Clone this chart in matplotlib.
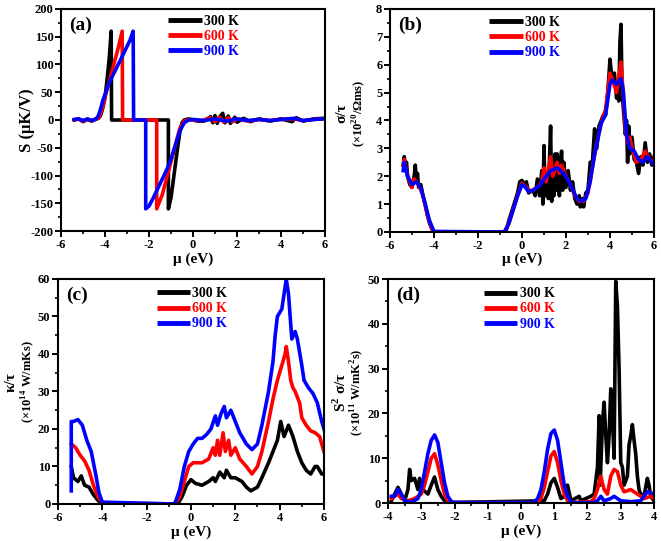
"""Thermoelectric transport panels (a)-(d)."""

import matplotlib
matplotlib.use("Agg")
import matplotlib.pyplot as plt
from matplotlib.ticker import MultipleLocator

plt.rcParams["font.family"] = ["Liberation Serif", "DejaVu Serif"]
plt.rcParams["font.weight"] = "bold"
plt.rcParams["axes.unicode_minus"] = False
plt.rcParams["mathtext.fontset"] = "custom"
plt.rcParams["mathtext.rm"] = "Liberation Serif:bold"
plt.rcParams["mathtext.bf"] = "Liberation Serif:bold"

temps = ["300 K", "600 K", "900 K"]
colors = ["#000000", "#ff0000", "#0000ff"]

# (a) Seebeck coefficient, muK/V
a_mu_300 = [-5.4, -5.2, -5.0, -4.8, -4.6, -4.4, -4.3, -4.2, -4.1, -4.0, -3.9, -3.8, -3.72, -3.7,
            -1.12, -1.12, -1.0, -0.9, -0.8, -0.7, -0.6, -0.5, -0.4, -0.2, 0.0, 0.2, 0.5, 0.8, 0.9,
            1.0, 1.1, 1.2, 1.35, 1.45, 1.6, 1.7, 1.9, 2.0, 2.3, 2.6, 3.0, 3.5, 4.0, 4.5, 4.7, 5.0,
            5.5, 5.9]
a_S_300 = [0, 2, -3, 1, -2, 2, 3, 8, 22, 40, 75, 115, 160, 0,
           0, -160, -140, -110, -80, -50, -22, -5, 0, 2, 0, -2, -2, 6, -5,
           8, -6, 5, 12, -5, 7, -6, 5, -4, 3, -3, 2, -2, 2, -3, 4, -2,
           2, 3]
a_mu_600 = [-5.4, -5.2, -5.0, -4.8, -4.6, -4.4, -4.3, -4.2, -4.1, -4.0, -3.8, -3.6, -3.4, -3.22,
            -3.2, -1.65, -1.65, -1.4, -1.2, -1.0, -0.8, -0.6, -0.4, -0.2, 0.0, 0.4, 0.8, 1.0,
            1.2, 1.4, 1.6, 1.8, 2.0, 2.5, 3.0, 3.5, 4.0, 4.6, 5.0, 5.5, 5.9]
a_S_600 = [0, 2, -2, 1, -1, 2, 3, 12, 25, 42, 70, 100, 130, 160,
           0, 0, -160, -135, -105, -75, -45, -15, -2, 1, 0, -1, 4, -3,
           5, -4, 4, -3, 2, -2, 1, -1, 1, 2, -1, 1, 2]
a_mu_900 = [-5.4, -5.2, -5.0, -4.8, -4.6, -4.4, -4.3, -4.2, -4.1, -3.8, -3.3, -2.86, -2.72,
            -2.7, -2.15, -2.15, -2.0, -1.8, -1.5, -1.2, -1.0, -0.8, -0.6, -0.4, -0.2, 0.0, 0.5,
            1.0, 1.5, 2.0, 2.5, 3.0, 3.5, 4.0, 4.6, 5.0, 5.5, 5.9]
a_S_900 = [1, 2, -1, 2, -1, 2, 8, 20, 35, 68, 108, 144, 160,
           0, 0, -160, -155, -140, -115, -90, -70, -45, -20, -5, 0, 1, -1,
           2, -2, 2, -1, 1, -1, 1, 3, -1, 1, 2]

# (b) electrical conductivity / tau, 1e20 /Ohm m s
b_mu_300 = [-5.4, -5.35, -5.3, -5.25, -5.2, -5.1, -5.0, -4.9, -4.85, -4.8, -4.75, -4.7, -4.6,
            -4.5, -4.4, -4.3, -4.2, -4.05, -4.0, -0.8, -0.7, -0.6, -0.4, -0.2, -0.1, 0.0, 0.1,
            0.2, 0.3, 0.5, 0.6, 0.7, 0.8, 0.9, 0.95, 1.0, 1.05, 1.1, 1.2, 1.25, 1.3, 1.35, 1.4,
            1.45, 1.5, 1.55, 1.6, 1.7, 1.75, 1.8, 1.85, 1.9, 2.0, 2.1, 2.2, 2.3, 2.4, 2.5, 2.6,
            2.65, 2.75, 2.8, 2.9, 3.0, 3.1, 3.2, 3.3, 3.4, 3.5, 3.6, 3.7, 3.8, 3.9, 4.0, 4.05,
            4.1, 4.2, 4.3, 4.35, 4.4, 4.45, 4.5, 4.55, 4.6, 4.7, 4.75, 4.8, 4.85, 4.9, 5.0, 5.1,
            5.2, 5.3, 5.4, 5.5, 5.6, 5.7, 5.8, 5.9, 6.0]
b_sig_300 = [2.4, 2.7, 2.3, 2.5, 2.0, 1.7, 1.6, 2.0, 2.4, 1.8, 2.1, 1.6, 1.7,
             1.3, 1.0, 0.6, 0.3, 0.03, 0.0, 0.0, 0.1, 0.4, 0.9, 1.4, 1.8, 1.85, 1.7,
             1.8, 1.4, 1.5, 1.3, 1.9, 1.3, 2.2, 1.0, 3.1, 1.3, 2.1, 1.2, 2.6, 3.8, 1.1, 2.5,
             1.3, 2.8, 1.5, 2.8, 1.3, 2.5, 2.9, 1.5, 2.5, 1.6, 2.2, 1.5, 1.8, 1.2, 1.0, 1.3,
             0.9, 1.2, 0.9, 1.4, 1.5, 2.5, 2.5, 3.7, 3.0, 3.8, 4.0, 4.2, 4.2, 5.0, 6.2, 5.8,
             5.5, 5.7, 4.8, 5.3, 4.7, 6.8, 7.45, 5.0, 4.5, 3.5, 4.0, 2.5, 3.8, 2.8, 3.4, 2.6,
             2.5, 2.1, 2.7, 2.4, 3.2, 2.5, 2.8, 2.4, 2.7]
b_mu_600 = [-5.4, -5.35, -5.2, -5.0, -4.9, -4.8, -4.7, -4.5, -4.3, -4.1, -4.0, -0.8, -0.6,
            -0.4, -0.2, 0.0, 0.2, 0.4, 0.7, 0.9, 1.0, 1.1, 1.3, 1.4, 1.6, 1.7, 1.8, 2.0, 2.2,
            2.4, 2.6, 2.8, 3.0, 3.2, 3.4, 3.6, 3.8, 4.0, 4.1, 4.3, 4.5, 4.6, 4.7, 4.8, 4.9,
            5.0, 5.2, 5.4, 5.6, 5.8, 6.0]
b_sig_600 = [2.4, 2.6, 2.0, 1.6, 1.9, 1.8, 1.7, 1.3, 0.6, 0.1, 0.0, 0.0, 0.3,
             0.8, 1.3, 1.75, 1.6, 1.45, 1.6, 1.8, 2.3, 1.8, 2.7, 2.0, 2.5, 2.1, 2.4, 2.0, 1.7,
             1.3, 1.1, 1.1, 1.4, 2.3, 3.2, 3.9, 4.4, 5.7, 5.5, 5.0, 6.1, 5.0, 3.7, 3.2, 3.4,
             3.0, 2.5, 2.6, 2.9, 2.6, 2.5]
b_mu_900 = [-5.4, -5.35, -5.2, -5.0, -4.8, -4.6, -4.4, -4.2, -4.0, -0.8, -0.6, -0.4, -0.2,
            0.0, 0.1, 0.3, 0.5, 0.8, 1.0, 1.3, 1.6, 1.9, 2.2, 2.5, 2.7, 2.9, 3.1, 3.3, 3.6,
            3.8, 4.0, 4.1, 4.3, 4.5, 4.6, 4.75, 4.9, 5.1, 5.3, 5.5, 5.7, 5.9, 6.0]
b_sig_900 = [2.2, 2.5, 2.0, 1.7, 1.8, 1.6, 1.0, 0.4, 0.02, 0.0, 0.3, 0.8, 1.3,
             1.7, 1.65, 1.45, 1.5, 1.65, 1.9, 2.2, 2.3, 2.1, 1.7, 1.2, 1.1, 1.2, 1.8, 2.8, 3.9,
             4.2, 5.3, 5.45, 5.3, 5.5, 5.1, 3.5, 3.0, 2.9, 2.6, 2.5, 2.7, 2.5, 2.4]

# (c) electronic thermal conductivity / tau, 1e14 W/mKs
c_mu_300 = [-5.4, -5.3, -5.1, -4.95, -4.8, -4.6, -4.4, -4.2, -4.0, -0.6, -0.4, -0.2, 0.0, 0.2,
            0.5, 0.8, 1.0, 1.1, 1.3, 1.5, 1.6, 1.8, 2.0, 2.3, 2.5, 2.7, 3.0, 3.2, 3.5, 3.7, 3.9,
            4.05, 4.2, 4.4, 4.6, 4.8, 5.0, 5.2, 5.4, 5.6, 5.7, 5.9, 6.0]
c_k_300 = [10, 7, 6, 7.5, 5, 4.5, 2.5, 1, 0, 0, 2, 5, 6.5, 5.5,
           5, 6, 7, 6, 8.5, 7, 9, 7, 7, 6, 4.5, 3.5, 4.5, 7, 11, 14, 17,
           22, 18, 21, 18, 14, 11, 9, 8, 10, 10, 8, 8]
c_mu_600 = [-5.4, -5.2, -5.0, -4.8, -4.6, -4.4, -4.2, -4.0, -0.7, -0.5, -0.3, -0.1, 0.1, 0.5,
            0.8, 1.0, 1.1, 1.2, 1.3, 1.45, 1.55, 1.7, 1.8, 2.0, 2.2, 2.5, 2.75, 3.0, 3.2, 3.5,
            3.7, 3.9, 4.1, 4.25, 4.3, 4.4, 4.5, 4.6, 4.7, 4.9, 5.0, 5.2, 5.4, 5.6, 5.8, 6.0]
c_k_600 = [16, 15, 13, 11.5, 9, 5, 2, 0.3, 0, 2, 6, 10, 11, 11,
           12, 15, 13, 17, 13, 19, 14, 17, 13, 15, 12, 10, 8, 10, 14, 22,
           28, 33, 37, 40, 42, 38, 33, 31, 30, 27, 23, 21, 19.5, 19, 18, 14]
c_mu_900 = [-5.4, -5.4, -5.3, -5.1, -4.9, -4.7, -4.5, -4.3, -4.15, -4.0, -0.8, -0.7, -0.5,
            -0.3, -0.1, 0.1, 0.3, 0.5, 0.7, 0.9, 1.1, 1.2, 1.35, 1.5, 1.6, 1.8, 2.0, 2.2, 2.5,
            2.75, 3.0, 3.2, 3.5, 3.7, 3.8, 3.9, 4.1, 4.2, 4.3, 4.4, 4.5, 4.55, 4.7, 4.8, 5.0,
            5.1, 5.3, 5.5, 5.7, 5.9, 6.0]
c_k_900 = [3.5, 22, 22, 22.5, 21, 17, 14, 8, 3, 0.5, 0, 0.5, 4,
           10, 14, 16, 17.5, 17.5, 18.5, 20, 23.5, 21, 24, 26, 23, 25, 22, 19, 16,
           14.5, 16, 21, 30, 38, 45, 50, 52, 56, 60, 56, 48, 44, 46, 44, 37,
           33, 31, 29.5, 27, 22, 20]

# (d) power factor / tau, 1e11 W/mK^2s
d_mu_300 = [-3.9, -3.7, -3.6, -3.5, -3.4, -3.35, -3.3, -3.2, -3.1, -3.05, -2.95, -2.8, -2.7,
            -2.6, -2.5, -2.4, -2.3, -2.2, 0.7, 0.8, 0.9, 1.0, 1.1, 1.2, 1.3, 1.4, 1.5, 1.75,
            1.8, 2.1, 2.2, 2.3, 2.35, 2.38, 2.42, 2.45, 2.5, 2.55, 2.6, 2.65, 2.7, 2.75, 2.8,
            2.85, 2.9, 2.95, 3.0, 3.05, 3.1, 3.2, 3.25, 3.3, 3.35, 3.4, 3.45, 3.5, 3.55, 3.6,
            3.7, 3.8, 3.85, 3.9, 4.0]
d_pf_300 = [0.5, 3.5, 2, 0.5, 3, 7.5, 5, 5.5, 3, 5.5, 3, 2, 4,
            5.8, 3, 1.5, 0.5, 0.1, 0.5, 2, 4.5, 5.5, 3.5, 1, 1.5, 4, 0.5, 1.5,
            0.5, 1.5, 2, 8, 19.5, 4, 12, 18, 22.5, 15, 9, 15, 25.5, 19, 10,
            49.5, 44, 30, 9, 8, 4, 6, 13, 15, 17.5, 14, 11, 6, 3, 2,
            1.5, 5.5, 4, 1.5, 0.5]
d_mu_600 = [-3.9, -3.7, -3.6, -3.4, -3.2, -3.0, -2.9, -2.8, -2.7, -2.6, -2.5, -2.4, -2.3, -2.2,
            -2.1, 0.5, 0.6, 0.7, 0.8, 0.9, 1.0, 1.1, 1.2, 1.3, 1.4, 1.5, 2.1, 2.2, 2.3, 2.4,
            2.5, 2.6, 2.7, 2.8, 2.9, 3.0, 3.1, 3.3, 3.5, 3.7, 3.9, 4.0]
d_pf_600 = [1, 2, 1, 0.5, 1, 2, 4, 7, 10, 11, 8.5, 5, 2, 0.5,
            0.1, 0.1, 1, 3.5, 7, 10.5, 11.5, 9, 5, 2, 0.5, 0.1, 0.3, 1, 3, 6,
            3, 2, 6, 7.5, 7, 4, 2.5, 3, 2, 1, 1.5, 1]
d_mu_900 = [-3.9, -3.8, -3.7, -3.6, -3.5, -3.3, -3.1, -3.0, -2.9, -2.8, -2.7, -2.6, -2.5, -2.4,
            -2.3, -2.2, -2.1, -2.0, 0.3, 0.4, 0.5, 0.6, 0.7, 0.8, 0.9, 1.0, 1.1, 1.2, 1.3, 1.4,
            1.5, 1.6, 2.2, 2.3, 2.4, 2.5, 2.7, 2.8, 3.0, 3.3, 3.6, 3.8, 3.9, 4.0]
d_pf_900 = [1.5, 1.5, 3, 2, 0.5, 0.2, 1, 3, 7, 11, 14, 15.2, 13.5, 9,
            4.5, 1.5, 0.4, 0.1, 0.1, 0.3, 1.0, 3, 7, 12, 15.5, 16.3, 14, 9, 4, 1.5,
            0.3, 0.05, 0.1, 0.5, 1.5, 0.5, 1, 1.5, 0.5, 0.3, 0.5, 2.5, 2.3, 2]


def style_axes(ax, xlim, xmaj, ylim, ymaj):
    ax.set_xlim(*xlim)
    ax.set_ylim(*ylim)
    ax.xaxis.set_major_locator(MultipleLocator(xmaj))
    ax.xaxis.set_minor_locator(MultipleLocator(xmaj / 2))
    ax.yaxis.set_major_locator(MultipleLocator(ymaj))
    ax.yaxis.set_minor_locator(MultipleLocator(ymaj / 2))
    ax.tick_params(which="major", direction="out", length=4, width=1.4, labelsize=9, pad=1.5)
    ax.tick_params(which="minor", direction="out", length=2.5, width=1.2)
    for sp in ax.spines.values():
        sp.set_linewidth(1.5)
    ax.set_xlabel("μ (eV)", fontsize=11, fontweight="bold", labelpad=1)


fig = plt.figure(figsize=(6.61, 5.41), dpi=100)
ax_a = fig.add_axes([0.0923, 0.5730, 0.3994, 0.4104])
ax_b = fig.add_axes([0.5900, 0.5712, 0.3994, 0.4122])
ax_c = fig.add_axes([0.0877, 0.0684, 0.4024, 0.4159])
ax_d = fig.add_axes([0.5870, 0.0702, 0.4024, 0.4140])

panels = [
    (ax_a, [(a_mu_300, a_S_300), (a_mu_600, a_S_600), (a_mu_900, a_S_900)],
     (-6, 6), 2, (-200, 200), 50, "(a)", 0.375, 1.01),
    (ax_b, [(b_mu_300, b_sig_300), (b_mu_600, b_sig_600), (b_mu_900, b_sig_900)],
     (-6, 6), 2, (0, 8), 1, "(b)", 0.345, 1.005),
    (ax_c, [(c_mu_300, c_k_300), (c_mu_600, c_k_600), (c_mu_900, c_k_900)],
     (-6, 6), 2, (0, 60), 10, "(c)", 0.34, 1.0),
    (ax_d, [(d_mu_300, d_pf_300), (d_mu_600, d_pf_600), (d_mu_900, d_pf_900)],
     (-4, 4), 1, (0, 50), 10, "(d)", 0.33, 1.0),
]

for ax, series, xlim, xmaj, ylim, ymaj, tag, lx, ly in panels:
    for (mu, val), lab, col in zip(series, temps, colors):
        ax.plot(mu, val, color=col, lw=2.6, label=lab, solid_joinstyle="round")
    style_axes(ax, xlim, xmaj, ylim, ymaj)
    ax.text(0.03, 0.965, tag, transform=ax.transAxes, fontsize=14,
            fontweight="bold", va="top", ha="left")
    leg = ax.legend(loc="upper left", bbox_to_anchor=(lx, ly), frameon=False,
                    fontsize=10, handlelength=2.4, handletextpad=0.15,
                    labelspacing=0.15, borderpad=0.1, labelcolor="linecolor")
    for line in leg.get_lines():
        line.set_linewidth(3.5)
        line.set_solid_capstyle("butt")

# y-axis labels
ax_a.set_ylabel("S (μK/V)", fontsize=12, fontweight="bold")
ax_a.yaxis.set_label_coords(-0.10, 0.5)


def two_line_label(x1, x2, yc, top, bottom, fs2=9):
    fig.text(x1 / 661, 1 - yc / 541, top, rotation=90, fontsize=11,
             fontweight="bold", ha="center", va="center")
    fig.text(x2 / 661, 1 - yc / 541, bottom, rotation=90, fontsize=fs2,
             fontweight="bold", ha="center", va="center")


two_line_label(342, 359, 113, "σ/τ", r"(×10$^{20}$/Ωms)")
two_line_label(11, 28, 382, "κ/τ", r"(×10$^{14}$ W/mKs)")
two_line_label(340, 357, 392, r"S$^{2}$ σ/τ", r"(×10$^{11}$ W/mK$^{2}$s)")

fig.savefig("out.png", dpi=100, facecolor="white")
